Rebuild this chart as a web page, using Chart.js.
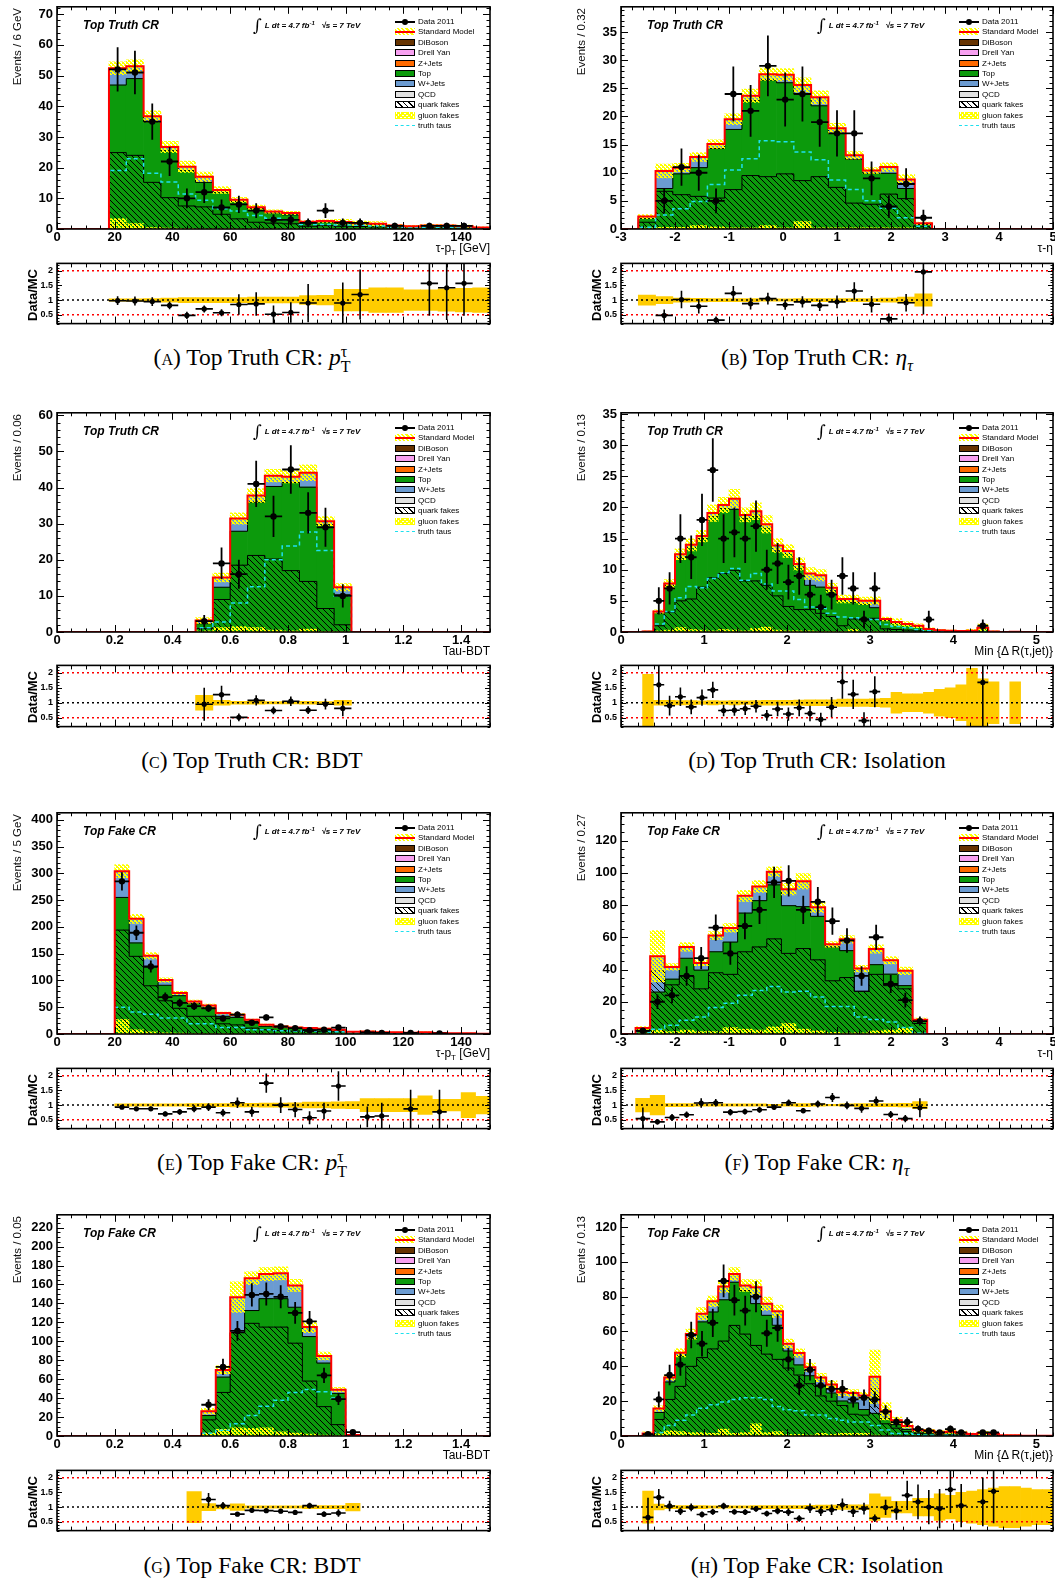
<!DOCTYPE html>
<html>
<head>
<meta charset="utf-8">
<title>Top control regions</title>
<script src="https://cdn.jsdelivr.net/npm/chart.js@4.4.1/dist/chart.umd.min.js"></script>
<style>
  html, body { margin: 0; padding: 0; background: #fff; }
  body { position: relative; width: 1055px; height: 1583px; overflow: hidden; font-family: "Liberation Sans", Arial, sans-serif; color: #000; }
  canvas { position: absolute; }
  .t { position: absolute; white-space: nowrap; }
  .hdr { font: italic bold 12px "Liberation Sans", sans-serif; line-height: 14px; }
  .lumi { font: italic bold 8px "Liberation Sans", sans-serif; height: 18px; display: flex; align-items: center; }
  .lumi .int { font: normal 17px "DejaVu Serif", serif; margin-right: 3px; }
  .lumi sup { font-size: 6px; vertical-align: 3px; }
  .ytitle { writing-mode: vertical-rl; transform: rotate(180deg); font-size: 11.5px; line-height: 14px; color: #111; }
  .rtitle { writing-mode: vertical-rl; transform: rotate(180deg); font-weight: bold; font-size: 13px; line-height: 14px; text-align: center; }
  .xtitle { font-size: 12px; line-height: 14px; text-align: right; }
  .xtitle sub { font-size: 8px; }
  .caption { font: 23.5px "Liberation Serif", serif; line-height: 28px; transform: translateX(-50%); }
  .sc { font-variant: small-caps; }
  .ss { display: inline-block; vertical-align: -0.45em; font-size: 0.68em; line-height: 0.95; }
  .ss span { display: block; }
  .leg { font-size: 8px; }
  .leg .row { position: absolute; left: 0; height: 10px; display: flex; align-items: center; }
  .sym { width: 20px; height: 7px; box-sizing: border-box; position: relative; margin-right: 3px; flex: none; }
  .sym.box { border: 1px solid #000; }
  .sym.data::before { content: ''; position: absolute; left: 0; right: 0; top: 3px; height: 1.5px; background: #000; }
  .sym.data::after { content: ''; position: absolute; left: 7px; top: 0.5px; width: 6px; height: 6px; border-radius: 50%; background: #000; }
  .sym.sm { background: repeating-linear-gradient(45deg, #ff0 0 1.5px, #fff 1.5px 3px), #ff0; }
  .sym.sm::after { content: ''; position: absolute; left: 0; right: 0; top: 2.5px; height: 2px; background: #f00; }
  .sym.quark { border: 1px solid #000; background: repeating-linear-gradient(45deg, #000 0 1px, #fff 1px 4px); }
  .sym.gluon { background: repeating-linear-gradient(45deg, #ff0 0 1.5px, transparent 1.5px 3px), repeating-linear-gradient(-45deg, #ff0 0 1.5px, #fff 1.5px 3px); }
  .sym.truth::after { content: ''; position: absolute; left: 0; right: 0; top: 2.5px; border-top: 1.5px dashed #1ee0ee; }
</style>
</head>
<body>
<script>
// ---------- Top Truth CR: tau pT, 6 GeV bins ----------
const ptTruthBins = [21, 27, 33, 39, 45, 51, 57, 63, 69, 75, 81, 87, 93, 99, 105, 111, 117, 123, 129, 135, 141, 147];
const ptTruthTop = [46.9, 49.0, 35.0, 25.5, 19.0, 15.2, 12.0, 9.0, 6.6, 5.2, 4.6, 2.1, 2.3, 2.0, 1.7, 1.5, 1.0, 0.8, 1.0, 1.0, 0.8, 0.4];
const ptTruthWjets = [5.5, 4.0, 1.7, 1.2, 1.3, 1.8, 0.7, 0.5, 0.5, 0.5, 0.6, 0.3, 0.3, 0.3, 0.2, 0.2, 0.1, 0.1, 0.1, 0.1, 0.1, 0.1];
const ptTruthQuark = [24.9, 24.0, 15.2, 10.2, 7.5, 7.2, 4.8, 3.3, 2.2, 1.9, 1.7, 0.9, 1.1, 0.9, 0.8, 0.7, 0.5, 0.4, 0.5, 0.5, 0.4, 0.2];
const ptTruthGluon = [3.4, 1.8, 0.5, 0.3, 0.2, 0.1, 0.1, 0.1, 0.1, 0.1, 0.1, 0.05, 0.05, 0.05, 0.05, 0.05, 0, 0, 0, 0, 0, 0];
const ptTruthTaus = [19.1, 22.9, 18.2, 15.3, 11.4, 9.4, 6.6, 5.9, 4.4, 3.5, 3.0, 1.5, 1.5, 1.3, 1.2, 1.0, 0.6, 0.5, 0.6, 0.6, 0.5, 0.3];
const ptTruthData = [52, 51, 35, 22, 10, 12, 7, 8, 6, 3, 3, 2, 6, 2, 2, null, 1, null, 1, 1, 1, null];
const ptTruthDataErr = [7.2, 7.1, 5.9, 4.7, 3.2, 3.5, 2.6, 2.8, 2.4, 1.7, 1.7, 1.4, 2.4, 1.4, 1.4, null, 1, null, 1, 1, 1, null];
const ptTruthRatio = [0.98, 0.97, 0.95, 0.82, 0.48, 0.70, 0.57, 0.85, 0.87, 0.52, 0.58, 0.90, null, 0.90, 1.19, null, null, null, 1.57, 1.42, 1.57, null];
const ptTruthRatioErr = [0.15, 0.15, 0.15, 0.13, 0.12, 0.12, 0.12, 0.35, 0.4, 0.3, 0.35, 0.65, null, 0.7, 0.85, null, null, null, 1.1, 1.1, 1.1, null];
const ptTruthSyst = [0.04, 0.04, 0.05, 0.07, 0.09, 0.09, 0.09, 0.09, 0.1, 0.1, 0.1, 0.15, 0.16, 0.37, 0.37, 0.42, 0.42, 0.35, 0.35, 0.38, 0.4, 0.42];

// ---------- Top Truth CR: tau eta, 0.32 bins ----------
const etaTruthBins = [-2.52, -2.2, -1.88, -1.56, -1.24, -0.92, -0.6, -0.28, 0.04, 0.36, 0.68, 1.0, 1.32, 1.64, 1.96, 2.28, 2.6];
const etaTruthTop = [1.9, 7.2, 9.8, 10.9, 14.3, 17.7, 22.8, 26.5, 26.0, 24.0, 21.9, 17.0, 12.4, 9.9, 9.9, 7.2, 0.8];
const etaTruthWjets = [0.3, 3.1, 1.1, 1.9, 0.8, 1.8, 0.9, 1.0, 1.4, 1.6, 1.5, 0.9, 0.7, 0.5, 1.1, 1.6, 0.2];
const etaTruthQuark = [1.2, 6.7, 6.1, 5.8, 5.5, 7.0, 9.5, 9.3, 9.8, 8.6, 9.3, 7.4, 4.6, 4.4, 6.2, 5.4, 0.4];
const etaTruthGluon = [0.2, 0.3, 0.3, 0.6, 0.4, 0.2, 0.2, 0.6, 0.2, 1.3, 0.2, 0.2, 0.2, 0.2, 0.2, 0.2, 0.1];
const etaTruthTaus = [0.3, 2.5, 3.6, 4.9, 7.9, 10.5, 12.5, 15.7, 15.5, 13.7, 12.3, 8.7, 7.0, 5.0, 3.7, 2.0, 0.5];
const etaTruthData = [null, 5, 11, 10, 5, 24, 21, 29, 23, 24, 19, 17, 17, 9, 4, 8, 2];
const etaTruthDataErr = [null, 2.2, 3.3, 3.2, 2.2, 4.9, 4.6, 5.4, 4.8, 4.9, 4.4, 4.1, 4.1, 3.0, 2.0, 2.8, 1.4];
const etaTruthRatio = [null, 0.48, 1.02, 0.79, 0.32, 1.23, 0.88, 1.05, 0.84, 0.94, 0.82, 0.94, 1.31, 0.86, 0.36, 0.91, 1.96];
const etaTruthRatioErr = [null, 0.2, 0.3, 0.25, 0.12, 0.25, 0.2, 0.2, 0.17, 0.19, 0.19, 0.22, 0.3, 0.28, 0.18, 0.3, 1.45];
const etaTruthSyst = [0.17, 0.12, 0.07, 0.06, 0.05, 0.05, 0.05, 0.04, 0.04, 0.05, 0.05, 0.05, 0.05, 0.05, 0.07, 0.1, 0.21];

// ---------- Top Truth CR: tau BDT score, 0.06 bins ----------
const bdtTruthBins = [0.51, 0.57, 0.63, 0.69, 0.75, 0.81, 0.87, 0.93, 0.99];
const bdtTruthTop = [2.3, 12.4, 27.9, 36.0, 40.3, 41.4, 40.1, 29.7, 10.3];
const bdtTruthWjets = [0.9, 2.7, 3.5, 1.8, 3.0, 1.6, 4.0, 1.0, 2.1];
const bdtTruthQuark = [1.0, 9.0, 18.5, 21.2, 20.2, 17.0, 14.0, 6.5, 2.0];
const bdtTruthGluon = [0.3, 1.2, 1.5, 1.2, 0.5, 0.3, 0.8, 0.2, 0.1];
const bdtTruthTaus = [1.2, 2.8, 8.0, 12.5, 20.0, 23.8, 27.7, 22.6, 10.0];
const bdtTruthData = [3, 19, 16, 41, 32, 45, 33, 29, 10];
const bdtTruthDataErr = [1.7, 4.4, 4.0, 6.4, 5.7, 6.7, 5.7, 5.4, 3.2];
const bdtTruthRatio = [0.95, 1.27, 0.51, 1.08, 0.74, 1.05, 0.75, 0.95, 0.81];
const bdtTruthRatioErr = [0.55, 0.3, 0.13, 0.17, 0.13, 0.16, 0.13, 0.18, 0.26];
const bdtTruthSyst = [0.25, 0.08, 0.05, 0.05, 0.04, 0.04, 0.05, 0.04, 0.08];

// ---------- Top Truth CR: min dR(tau, jet), 0.13 bins ----------
const isoTruthBins = [0.325, 0.455, 0.585, 0.715, 0.845, 0.975, 1.105, 1.235, 1.365, 1.495, 1.625, 1.755, 1.885, 2.015, 2.145, 2.275, 2.405, 2.535, 2.665, 2.795, 2.925, 3.055, 3.185, 3.315, 3.445, 3.575, 3.705, 3.835, 3.965, 4.095, 4.225, 4.355, 4.485, 4.615, 4.745];
const isoTruthTop = [0.1, 3.0, 7.5, 11.9, 13.6, 15.0, 18.5, 19.8, 19.7, 18.3, 18.6, 16.7, 13.0, 12.6, 10.4, 7.5, 7.2, 6.6, 5.0, 4.8, 4.5, 3.9, 1.9, 1.4, 1.2, 0.9, 0.45, 0.25, 0.2, 0.15, 0.2, 0.7, 0.1, 0, 0.05];
const isoTruthWjets = [0, 0.3, 0.3, 0.6, 0.4, 0.4, 0.6, 0.6, 1.7, 0.5, 0.8, 0.6, 0.9, 0.4, 0.5, 1.9, 1.9, 0.5, 0.3, 0.5, 0.5, 1.1, 0.2, 0.2, 0.1, 0.1, 0.05, 0.05, 0, 0, 0, 0, 0, 0, 0];
const isoTruthQuark = [0, 1.0, 3.2, 5.0, 5.3, 7.2, 8.7, 9.4, 9.9, 8.2, 8.2, 7.5, 5.8, 4.1, 3.6, 3.6, 3.0, 2.5, 1.0, 2.1, 2.1, 2.2, 0.5, 0.4, 0.3, 0.2, 0.1, 0.1, 0.05, 0.05, 0.05, 0.1, 0, 0, 0];
const isoTruthGluon = [0, 0.2, 0.3, 0.7, 0.4, 0.3, 0.2, 0.4, 0.3, 0.2, 0.6, 0.8, 0.3, 0.2, 0.2, 0.2, 0.1, 0.1, 0.1, 0.4, 0.1, 0.1, 0.05, 0, 0, 0, 0, 0, 0, 0, 0, 0, 0, 0, 0];
const isoTruthTaus = [0, 1.3, 3.3, 5.5, 7.3, 7.1, 8.6, 9.5, 10.2, 8.3, 9.4, 7.7, 6.6, 6.6, 5.2, 4.0, 3.8, 3.0, 2.4, 2.3, 2.1, 2.0, 1.2, 0.9, 0.7, 0.4, 0.2, 0.1, 0.1, 0.05, 0.05, 0.1, 0, 0, 0];
const isoTruthData = [null, 5, 7, 15, 12, 18, 26, 15, 16, 15, 17, 10, 11, 8, 9, 6, 4, 6, 9, 7, 2, 7, null, null, null, null, 2, null, null, null, null, 1, null, null, null];
const isoTruthDataErr = [null, 2.2, 2.6, 3.9, 3.5, 4.2, 5.1, 3.9, 4.0, 3.9, 4.1, 3.2, 3.3, 2.8, 3.0, 2.4, 2.0, 2.4, 3.0, 2.6, 1.4, 2.6, null, null, null, null, 1.4, null, null, null, null, 1.0, null, null, null];
const isoTruthRatio = [null, 1.6, 0.9, 1.2, 0.86, 1.17, 1.43, 0.74, 0.75, 0.8, 0.88, 0.58, 0.79, 0.62, 0.83, 0.64, 0.44, 0.85, 1.7, 1.28, 0.4, 1.37, null, null, null, null, null, null, null, null, null, 1.68, null, null, null];
const isoTruthRatioErr = [null, 0.66, 0.33, 0.31, 0.25, 0.27, 0.27, 0.19, 0.19, 0.21, 0.21, 0.18, 0.24, 0.22, 0.28, 0.26, 0.22, 0.34, 0.57, 0.49, 0.28, 0.52, null, null, null, null, null, null, null, null, null, 1.6, null, null, null];
const isoTruthSyst = [0.95, 0.08, 0.08, 0.07, 0.07, 0.06, 0.07, 0.06, 0.07, 0.06, 0.07, 0.08, 0.08, 0.08, 0.09, 0.1, 0.1, 0.1, 0.12, 0.12, 0.12, 0.13, 0.15, 0.35, 0.3, 0.3, 0.35, 0.45, 0.5, 0.6, 1.15, 0.8, 0.7, null, 0.7];

// ---------- Top Fake CR: tau pT, 5 GeV bins ----------
const ptFakeBins = [22.5, 27.5, 32.5, 37.5, 42.5, 47.5, 52.5, 57.5, 62.5, 67.5, 72.5, 77.5, 82.5, 87.5, 92.5, 97.5, 102.5, 107.5, 112.5, 117.5, 122.5, 127.5, 132.5, 137.5, 142.5, 147.5];
const ptFakeTop = [255, 170, 125, 91, 71.5, 57, 49, 33, 31, 23.5, 14.3, 12.2, 10.8, 9.6, 8.4, 6.5, 3.5, 4.1, 2.6, 2.6, 2.1, 2.6, 1.6, 1.0, 1.0, 0.5];
const ptFakeWjets = [49, 45, 21, 10, 5, 3.5, 4, 6, 5, 3, 3, 2, 1.5, 1.5, 1.5, 1.5, 0.8, 0.8, 0.5, 0.5, 0.4, 0.5, 0.3, 0.2, 0.2, 0.1];
const ptFakeQuark = [194, 145, 90, 62, 48, 33, 33, 19, 17, 11, 8, 6.5, 5.5, 5, 4.5, 4, 2.5, 2, 1.5, 1.5, 1.2, 1.5, 1, 0.6, 0.6, 0.3];
const ptFakeGluon = [27, 8, 4, 2, 1.5, 1, 0.8, 0.6, 0.5, 0.5, 0.4, 0.3, 0.3, 0.2, 0.2, 0.2, 0.1, 0.1, 0.1, 0.1, 0.1, 0.1, 0.05, 0.05, 0.05, 0];
const ptFakeTaus = [50, 41, 37, 30, 30, 19, 19, 12, 12, 8, 8, 6, 5.5, 5, 4.5, 4, 2.5, 2, 1.5, 1.5, 1.2, 1.5, 1, 0.6, 0.6, 0.3];
const ptFakeData = [285, 189, 126, 69, 58, 52, 48, 29, 36, 21, 31, 14, 11, 7, 8, 12, null, 3, 2, null, 2, null, 1, null, null, null];
const ptFakeDataErr = [16.9, 13.7, 11.2, 8.3, 7.6, 7.2, 6.9, 5.4, 6, 4.6, 5.6, 3.7, 3.3, 2.6, 2.8, 3.5, null, 1.7, 1.4, null, 1.4, null, 1, null, null, null];
const ptFakeRatio = [0.93, 0.875, 0.875, 0.70, 0.77, 0.875, 0.93, 0.74, 1.08, 0.77, 1.75, 1.0, 0.85, 0.57, 0.80, 1.65, null, 0.6, 0.63, null, 0.87, null, 0.77, null, null, null];
const ptFakeRatioErr = [0.06, 0.06, 0.07, 0.08, 0.1, 0.12, 0.13, 0.13, 0.18, 0.17, 0.33, 0.27, 0.26, 0.22, 0.28, 0.5, null, 0.35, 0.45, null, 0.65, null, 0.75, null, null, null];
const ptFakeSyst = [0.04, 0.04, 0.04, 0.04, 0.04, 0.05, 0.05, 0.05, 0.06, 0.06, 0.07, 0.07, 0.08, 0.1, 0.1, 0.11, 0.12, 0.22, 0.22, 0.22, 0.22, 0.32, 0.2, 0.2, 0.43, 0.3];

// ---------- Top Fake CR: tau eta, 0.27 bins ----------
const etaFakeBins = [-2.595, -2.325, -2.055, -1.785, -1.515, -1.245, -0.975, -0.705, -0.435, -0.165, 0.105, 0.375, 0.645, 0.915, 1.185, 1.455, 1.725, 1.995, 2.265, 2.535];
const etaFakeTop = [3.2, 26, 34, 47, 39.6, 51, 57, 75, 82.7, 92.5, 79.6, 79, 73, 54, 51.7, 26.5, 43, 37.1, 30, 8];
const etaFakeWjets = [0.5, 22.2, 7.6, 7, 4.5, 10.1, 8.8, 10.7, 8.8, 8.2, 10.2, 15.8, 5.6, 1.6, 7, 14.1, 9.7, 8.6, 9.2, 0.8];
const etaFakeQuark = [1.5, 39, 30.5, 36, 28, 38, 37, 51, 54, 59, 50, 53, 46, 33, 35, 26.5, 37, 30, 28, 6.5];
const etaFakeGluon = [0.5, 2.5, 1.5, 2.5, 1.5, 1.5, 4, 3, 2.5, 4.5, 6.5, 3, 2, 1, 0.5, 0.8, 2, 2.5, 3.5, 0.5];
const etaFakeTaus = [1, 3, 5.5, 8.5, 10.5, 16.5, 19, 24, 27, 29.5, 26, 26.5, 23, 17, 17, 10.5, 9, 7.5, 4, 0.5];
const etaFakeData = [2, 20, 24, 36, 47, 66, 50, 67, 77, 94, 95, 77, 82, 70, 58, 36, 60, 31, 21, 8];
const etaFakeDataErr = [1.4, 4.5, 4.9, 6, 6.9, 8.1, 7.1, 8.2, 8.8, 9.7, 9.7, 8.8, 9.1, 8.4, 7.6, 6, 7.7, 5.6, 4.6, 2.8];
const etaFakeRatio = [0.54, 0.43, 0.58, 0.67, 1.07, 1.08, 0.76, 0.78, 0.84, 0.93, 1.08, 0.81, 1.04, 1.26, 0.99, 0.89, 1.14, 0.68, 0.54, 0.91];
const etaFakeRatioErr = [0.38, 0.09, 0.12, 0.11, 0.16, 0.13, 0.11, 0.1, 0.1, 0.1, 0.11, 0.09, 0.12, 0.15, 0.13, 0.15, 0.15, 0.12, 0.12, 0.32];
const etaFakeSyst = [0.23, 0.33, 0.05, 0.05, 0.04, 0.04, 0.04, 0.04, 0.04, 0.03, 0.04, 0.05, 0.04, 0.03, 0.04, 0.05, 0.05, 0.05, 0.06, 0.12];

// ---------- Top Fake CR: tau BDT score, 0.05 bins ----------
const bdtFakeBins = [0.475, 0.525, 0.575, 0.625, 0.675, 0.725, 0.775, 0.825, 0.875, 0.925, 0.975, 1.025];
const bdtFakeTop = [0.05, 21.6, 62.2, 109.3, 132.5, 145, 145, 136, 105, 77, 45, 0.8];
const bdtFakeWjets = [0, 4.6, 7.6, 37.3, 34.1, 26, 26.8, 23, 10, 7.5, 3.9, 0.2];
const bdtFakeQuark = [0, 17, 46, 109, 119, 115, 115, 98, 58, 31, 12, 0.3];
const bdtFakeGluon = [0, 3, 7, 8.5, 8, 8.5, 4.5, 3, 2, 1, 0.5, 0];
const bdtFakeTaus = [0, 2.8, 6, 13, 21.6, 31.4, 37.7, 46, 49, 46.8, 40, 0];
const bdtFakeData = [null, 33, 73, 111, 149, 150, 147, 130, 121, 64, 39, 4];
const bdtFakeDataErr = [null, 5.7, 8.5, 10.5, 12.2, 12.2, 12.1, 11.4, 11, 8, 6.2, 2];
const bdtFakeRatio = [null, 1.26, 1.05, 0.76, 0.89, 0.88, 0.86, 0.82, 1.05, 0.76, 0.8, null];
const bdtFakeRatioErr = [null, 0.22, 0.12, 0.07, 0.07, 0.07, 0.07, 0.07, 0.1, 0.09, 0.13, null];
const bdtFakeSyst = [0.53, 0.12, 0.06, 0.11, 0.04, 0.04, 0.04, 0.04, 0.05, 0.05, 0.05, 0.13];

// ---------- Top Fake CR: min dR(tau, jet), 0.13 bins ----------
const isoFakeBins = [0.325, 0.455, 0.585, 0.715, 0.845, 0.975, 1.105, 1.235, 1.365, 1.495, 1.625, 1.755, 1.885, 2.015, 2.145, 2.275, 2.405, 2.535, 2.665, 2.795, 2.925, 3.055, 3.185, 3.315, 3.445, 3.575, 3.705, 3.835, 3.965, 4.095, 4.225, 4.355, 4.485, 4.615, 4.745, 4.875, 5.005, 5.135];
const isoFakeTop = [1.3, 13.5, 31, 46, 55.8, 65.5, 71.2, 78.2, 88.3, 83.5, 76, 69.3, 63.6, 48.8, 40.8, 34.6, 28.5, 24.7, 20.1, 19, 15.2, 13, 9.9, 6.5, 3.8, 2.3, 2.2, 1.6, 2.0, 1.4, 0.8, 1.3, 1.0, 0.3, 0.3, 0.2, 0.1, 0.1];
const isoFakeWjets = [0.2, 2.3, 2.6, 1.8, 2.7, 4.7, 6.1, 7.6, 4.7, 2.9, 9.4, 6.6, 8, 4.2, 6.9, 4.9, 5.1, 4.9, 5, 5.7, 8, 21, 4.3, 2.6, 1.9, 1.1, 0.8, 0.5, 0.5, 0.5, 0.3, 0.4, 0.3, 0.1, 0.1, 0, 0, 0];
const isoFakeQuark = [0.2, 9.5, 21, 28.5, 40, 45, 50, 54.5, 63.5, 58.5, 52, 47, 44, 39, 35, 30, 23, 20, 17.5, 12.5, 12, 27, 7, 4.5, 2.5, 1.5, 1.2, 0.8, 1, 0.6, 0.4, 0.5, 0.4, 0.1, 0.1, 0, 0, 0];
const isoFakeGluon = [0, 1.2, 3, 2.5, 2, 2, 1.5, 4, 1.5, 2, 7, 2, 2.5, 1, 1, 0.5, 1.5, 1, 1.5, 1.5, 1.5, 0.5, 0.3, 0.2, 0.1, 0.1, 0.1, 0, 0, 0, 0, 0, 0, 0, 0, 0, 0, 0];
const isoFakeTaus = [0.3, 2, 6, 9, 12, 16, 18, 19.5, 21, 22, 22, 21, 17, 15, 14.5, 12, 12, 10, 9, 8, 8, 6, 3.5, 1.5, 1.5, 0.8, 0.5, 0.5, 0.5, 0.3, 0.2, 0.2, 0.2, 0.1, 0.1, 0, 0, 0];
const isoFakeData = [1, 21, 35, 41, 58, 53, 65, 89, 78, 72, 80, 59, 62, 44, 29, 38, 29, 27, 27, 21, 22, 21, 14, 8, 8, 4, 3, 2, 4, 2, null, 2, 2, null, null, null, null, null];
const isoFakeDataErr = [1, 4.6, 5.9, 6.4, 7.6, 7.3, 8.1, 9.4, 8.8, 8.5, 8.9, 7.7, 7.9, 6.6, 5.4, 6.2, 5.4, 5.2, 5.2, 4.6, 4.7, 4.6, 3.7, 2.8, 2.8, 2, 1.7, 1.4, 2, 1.4, null, 1.4, 1.4, null, null, null, null, null];
const isoFakeRatio = [0.65, 1.33, 1.04, 0.86, 0.99, 0.75, 0.84, 1.04, 0.84, 0.83, 0.94, 0.78, 0.87, 0.83, 0.61, 0.96, 0.86, 0.91, 1.08, 0.85, 0.95, 0.62, 0.99, 0.88, 1.4, 1.18, 1.0, 0.95, 1.6, 1.05, null, 1.18, 1.54, null, null, null, null, null];
const isoFakeRatioErr = [0.67, 0.29, 0.18, 0.13, 0.13, 0.1, 0.1, 0.11, 0.09, 0.1, 0.1, 0.1, 0.11, 0.13, 0.11, 0.16, 0.16, 0.18, 0.21, 0.19, 0.2, 0.13, 0.26, 0.31, 0.5, 0.59, 0.58, 0.67, 0.8, 0.74, null, 0.83, 1.09, null, null, null, null, null];
const isoFakeSyst = [0.55, 0.1, 0.05, 0.05, 0.05, 0.05, 0.04, 0.04, 0.04, 0.04, 0.05, 0.05, 0.05, 0.05, 0.05, 0.06, 0.07, 0.07, 0.08, 0.08, 0.08, 0.45, 0.35, 0.2, 0.2, 0.3, 0.3, 0.45, 0.4, 0.5, 0.55, 0.6, 0.65, 0.7, 0.7, 0.65, 0.6, 0.6];

// ---------- styling ----------
const GREEN = '#0c9a0c';
const BLUE = '#6b9bd1';
const CYAN = '#1ee0ee';
const GOLD = '#ffcc00';

Chart.defaults.font.family = '"Liberation Sans", Arial, sans-serif';
Chart.defaults.color = '#000';

function hatchPattern() {
  const c = document.createElement('canvas');
  c.width = c.height = 6;
  const g = c.getContext('2d');
  g.strokeStyle = '#000';
  g.lineWidth = 1;
  g.beginPath();
  g.moveTo(-1, -1); g.lineTo(7, 7);
  g.moveTo(-1, 5); g.lineTo(1, 7);
  g.moveTo(5, -1); g.lineTo(7, 1);
  g.stroke();
  return g.createPattern(c, 'repeat');
}

function crossPattern() {
  const c = document.createElement('canvas');
  c.width = c.height = 4;
  const g = c.getContext('2d');
  g.fillStyle = '#ffff00';
  [[0, 0], [1, 1], [2, 2], [3, 3], [3, 0], [2, 1], [1, 2], [0, 3], [1, 0], [3, 2]].forEach(([x, y]) => g.fillRect(x, y, 1, 1));
  return g.createPattern(c, 'repeat');
}

const HATCH = hatchPattern();
const CROSS = crossPattern();

// ---------- plugins ----------
// vertical stat errors and horizontal bin-width bars on data points
const errorBars = {
  id: 'errorBars',
  afterDatasetsDraw(chart) {
    const { ctx, chartArea: a, scales: { x, y } } = chart;
    ctx.save();
    ctx.beginPath();
    ctx.rect(a.left, a.top, a.width, a.height);
    ctx.clip();
    chart.data.datasets.forEach(ds => {
      if (!ds.yErr) return;
      ctx.strokeStyle = '#000';
      ctx.lineWidth = ds.errWidth || 1.6;
      ctx.beginPath();
      ds.data.forEach((p, i) => {
        if (p.y == null) return;
        const px = x.getPixelForValue(p.x);
        const py = y.getPixelForValue(p.y);
        ctx.moveTo(x.getPixelForValue(p.x - ds.xHalf), py);
        ctx.lineTo(x.getPixelForValue(p.x + ds.xHalf), py);
        const e = ds.yErr[i];
        if (e != null) {
          ctx.moveTo(px, y.getPixelForValue(p.y - e));
          ctx.lineTo(px, y.getPixelForValue(p.y + e));
        }
      });
      ctx.stroke();
    });
    ctx.restore();
  }
};

function eachTick(min, max, minor, sub, fn) {
  const k0 = Math.ceil(min / minor - 1e-6);
  const k1 = Math.floor(max / minor + 1e-6);
  for (let k = k0; k <= k1; k++) fn(k * minor, ((k % sub) + sub) % sub === 0);
}

// frame with inward major/minor ticks on all four sides
const rootFrame = {
  id: 'rootFrame',
  afterDraw(chart, args, o) {
    const { ctx, chartArea: a, scales: { x, y } } = chart;
    ctx.save();
    ctx.strokeStyle = '#000';
    ctx.lineWidth = 1;
    ctx.beginPath();
    eachTick(x.min, x.max, o.xStep / o.xSub, o.xSub, (v, major) => {
      const px = Math.round(x.getPixelForValue(v)) + 0.5;
      const len = major ? o.xMajor : o.xMinor;
      ctx.moveTo(px, a.bottom); ctx.lineTo(px, a.bottom - len);
      ctx.moveTo(px, a.top); ctx.lineTo(px, a.top + len);
    });
    eachTick(y.min, y.max, o.yStep / o.ySub, o.ySub, (v, major) => {
      const py = Math.round(y.getPixelForValue(v)) + 0.5;
      const len = major ? o.yMajor : o.yMinor;
      ctx.moveTo(a.left, py); ctx.lineTo(a.left + len, py);
      ctx.moveTo(a.right, py); ctx.lineTo(a.right - len, py);
    });
    ctx.stroke();
    ctx.lineWidth = 1.6;
    ctx.strokeRect(a.left, a.top, a.width, a.height);
    ctx.restore();
  }
};

// ---------- layout ----------
const rows = [
  { mt: 5, mb: 229, rt: 262, rb: 327, cap: 357 },
  { mt: 411, mb: 632, rt: 664, rb: 730, cap: 760 },
  { mt: 811, mb: 1034, rt: 1067, rb: 1132, cap: 1162 },
  { mt: 1213, mb: 1436, rt: 1469, rb: 1534, cap: 1565 }
];
const cols = [
  { fl: 57, fr: 490, cx: 252 },
  { fl: 621, fr: 1053, cx: 817 }
];

const PT = '<i>p</i><span class="ss"><span>τ</span><span>T</span></span>';
const ETA = '<i>η</i><sub style="font-size:0.68em"><i>τ</i></sub>';

const panels = [
  { row: 0, col: 0, region: 'Top Truth CR', tag: 'a', what: PT, ytitle: 'Events / 6 GeV', xtitle: 'τ-p<sub>T</sub> [GeV]',
    bins: ptTruthBins, width: 6, top: ptTruthTop, wjets: ptTruthWjets, quark: ptTruthQuark, gluon: ptTruthGluon, taus: ptTruthTaus,
    data: ptTruthData, dataErr: ptTruthDataErr, ratio: ptTruthRatio, ratioErr: ptTruthRatioErr, syst: ptTruthSyst,
    x: { min: 0, max: 150, step: 20, sub: 4 }, y: { max: 72.4, step: 10, sub: 5 } },
  { row: 0, col: 1, region: 'Top Truth CR', tag: 'b', what: ETA, ytitle: 'Events / 0.32', xtitle: 'τ-η',
    bins: etaTruthBins, width: 0.32, top: etaTruthTop, wjets: etaTruthWjets, quark: etaTruthQuark, gluon: etaTruthGluon, taus: etaTruthTaus,
    data: etaTruthData, dataErr: etaTruthDataErr, ratio: etaTruthRatio, ratioErr: etaTruthRatioErr, syst: etaTruthSyst,
    x: { min: -3, max: 5, step: 1, sub: 5 }, y: { max: 39.5, step: 5, sub: 5 } },
  { row: 1, col: 0, region: 'Top Truth CR', tag: 'c', what: 'BDT', ytitle: 'Events / 0.06', xtitle: 'Tau-BDT',
    bins: bdtTruthBins, width: 0.06, top: bdtTruthTop, wjets: bdtTruthWjets, quark: bdtTruthQuark, gluon: bdtTruthGluon, taus: bdtTruthTaus,
    data: bdtTruthData, dataErr: bdtTruthDataErr, ratio: bdtTruthRatio, ratioErr: bdtTruthRatioErr, syst: bdtTruthSyst,
    x: { min: 0, max: 1.5, step: 0.2, sub: 4 }, y: { max: 60.7, step: 10, sub: 5 } },
  { row: 1, col: 1, region: 'Top Truth CR', tag: 'd', what: 'Isolation', ytitle: 'Events / 0.13', xtitle: 'Min {Δ R(τ,jet)}',
    bins: isoTruthBins, width: 0.13, top: isoTruthTop, wjets: isoTruthWjets, quark: isoTruthQuark, gluon: isoTruthGluon, taus: isoTruthTaus,
    data: isoTruthData, dataErr: isoTruthDataErr, ratio: isoTruthRatio, ratioErr: isoTruthRatioErr, syst: isoTruthSyst,
    x: { min: 0, max: 5.2, step: 1, sub: 5 }, y: { max: 35.2, step: 5, sub: 5 } },
  { row: 2, col: 0, region: 'Top Fake CR', tag: 'e', what: PT, ytitle: 'Events / 5 GeV', xtitle: 'τ-p<sub>T</sub> [GeV]',
    bins: ptFakeBins, width: 5, top: ptFakeTop, wjets: ptFakeWjets, quark: ptFakeQuark, gluon: ptFakeGluon, taus: ptFakeTaus,
    data: ptFakeData, dataErr: ptFakeDataErr, ratio: ptFakeRatio, ratioErr: ptFakeRatioErr, syst: ptFakeSyst,
    x: { min: 0, max: 150, step: 20, sub: 4 }, y: { max: 413, step: 50, sub: 5 } },
  { row: 2, col: 1, region: 'Top Fake CR', tag: 'f', what: ETA, ytitle: 'Events / 0.27', xtitle: 'τ-η',
    bins: etaFakeBins, width: 0.27, top: etaFakeTop, wjets: etaFakeWjets, quark: etaFakeQuark, gluon: etaFakeGluon, taus: etaFakeTaus,
    data: etaFakeData, dataErr: etaFakeDataErr, ratio: etaFakeRatio, ratioErr: etaFakeRatioErr, syst: etaFakeSyst,
    x: { min: -3, max: 5, step: 1, sub: 5 }, y: { max: 137.2, step: 20, sub: 4 } },
  { row: 3, col: 0, region: 'Top Fake CR', tag: 'g', what: 'BDT', ytitle: 'Events / 0.05', xtitle: 'Tau-BDT',
    bins: bdtFakeBins, width: 0.05, top: bdtFakeTop, wjets: bdtFakeWjets, quark: bdtFakeQuark, gluon: bdtFakeGluon, taus: bdtFakeTaus,
    data: bdtFakeData, dataErr: bdtFakeDataErr, ratio: bdtFakeRatio, ratioErr: bdtFakeRatioErr, syst: bdtFakeSyst,
    x: { min: 0, max: 1.5, step: 0.2, sub: 4 }, y: { max: 233.6, step: 20, sub: 4 } },
  { row: 3, col: 1, region: 'Top Fake CR', tag: 'h', what: 'Isolation', ytitle: 'Events / 0.13', xtitle: 'Min {Δ R(τ,jet)}',
    bins: isoFakeBins, width: 0.13, top: isoFakeTop, wjets: isoFakeWjets, quark: isoFakeQuark, gluon: isoFakeGluon, taus: isoFakeTaus,
    data: isoFakeData, dataErr: isoFakeDataErr, ratio: isoFakeRatio, ratioErr: isoFakeRatioErr, syst: isoFakeSyst,
    x: { min: 0, max: 5.2, step: 1, sub: 5 }, y: { max: 127, step: 20, sub: 4 } }
];

const LEGEND = [
  ['data', 'Data 2011'], ['sm', 'Standard Model'],
  ['box', 'DiBoson', '#663300'], ['box', 'Drell Yan', '#f7a0f0'], ['box', 'Z+Jets', '#ff6a00'],
  ['box', 'Top', GREEN], ['box', 'W+Jets', BLUE], ['box', 'QCD', '#e2e2e2'],
  ['quark', 'quark fakes'], ['gluon', 'gluon fakes'], ['truth', 'truth taus']
];

// ---------- helpers ----------
function addText(cls, html, style) {
  const d = document.createElement('div');
  d.className = 't ' + cls;
  d.innerHTML = html;
  Object.assign(d.style, style);
  document.body.appendChild(d);
  return d;
}

function makeCanvas(left, top, w, h) {
  const c = document.createElement('canvas');
  c.width = w; c.height = h;
  c.style.left = left + 'px'; c.style.top = top + 'px';
  c.style.width = w + 'px'; c.style.height = h + 'px';
  document.body.appendChild(c);
  return c;
}

// step outline of a histogram, flat at zero outside the filled bins
function contour(bins, width, values, xmin, xmax) {
  const pts = [{ x: xmin, y: 0 }];
  bins.forEach((c, i) => pts.push({ x: c - width / 2, y: values[i] || 0 }));
  pts.push({ x: bins[bins.length - 1] + width / 2, y: 0 });
  pts.push({ x: xmax, y: 0 });
  return pts;
}

// tick labels without trailing zeros ("1", "1.5", "0.2")
const plainNumber = v => String(Number(v.toFixed(3)));

function xScale(p, showLabels, height) {
  return {
    type: 'linear', min: p.x.min, max: p.x.max, offset: false,
    grid: { display: false, drawTicks: false }, border: { display: false },
    ticks: { display: showLabels, stepSize: p.x.step, includeBounds: false, autoSkip: false, maxRotation: 0,
             padding: 1, font: { size: 13, weight: 'bold' }, callback: plainNumber },
    afterFit(s) { s.height = height; }
  };
}

function yScale(min, max, step, fontSize, stacked) {
  return {
    type: 'linear', min, max, stacked,
    grid: { display: false, drawTicks: false }, border: { display: false },
    ticks: { stepSize: step, includeBounds: false, autoSkip: false, padding: 4, font: { size: fontSize, weight: 'bold' },
             callback: plainNumber },
    afterFit(s) { s.width = 50; }
  };
}

function baseOptions() {
  return {
    responsive: false, devicePixelRatio: 1, animation: false, events: [],
    plugins: { legend: { display: false }, tooltip: { enabled: false } },
    datasets: {
      bar: { grouped: false, barPercentage: 1, categoryPercentage: 1, borderWidth: 0 },
      line: { pointRadius: 0, fill: false, tension: 0 }
    }
  };
}

// ---------- build ----------
panels.forEach(p => {
  const r = rows[p.row], c = cols[p.col];
  const w = c.fr - c.fl;
  const total = p.top.map((v, i) => v + p.wjets[i]);
  const pts = vals => p.bins.map((x, i) => ({ x, y: vals[i] }));
  const outline = vals => contour(p.bins, p.width, vals, p.x.min, p.x.max);

  // stacked histogram
  const mainOpts = baseOptions();
  mainOpts.layout = { padding: { left: 0, right: 10, top: 10, bottom: 0 } };
  mainOpts.scales = { x: xScale(p, true, 24), y: yScale(0, p.y.max, p.y.step, 13, true) };
  mainOpts.plugins.rootFrame = { xStep: p.x.step, xSub: p.x.sub, yStep: p.y.step, ySub: p.y.sub, xMajor: 7, xMinor: 3.5, yMajor: 7, yMinor: 3.5 };

  new Chart(makeCanvas(c.fl - 50, r.mt - 10, w + 60, r.mb - r.mt + 34), {
    type: 'bar',
    data: {
      datasets: [
        { type: 'bar', label: 'Top', data: pts(p.top), backgroundColor: GREEN, stack: 'mc', order: 20 },
        { type: 'bar', label: 'W+Jets', data: pts(p.wjets), backgroundColor: BLUE, stack: 'mc', order: 20 },
        { type: 'bar', label: 'quark fakes', data: pts(p.quark), backgroundColor: HATCH, stack: 'quark', order: 18 },
        { type: 'bar', label: 'gluon fakes', data: pts(p.gluon), backgroundColor: CROSS, stack: 'gluon', order: 17 },
        { type: 'line', label: 'quark outline', data: outline(p.quark), stepped: true, borderColor: '#000', borderWidth: 1, stack: 'qline', order: 16 },
        { type: 'line', label: 'top outline', data: outline(p.top), stepped: true, borderColor: '#000', borderWidth: 1, stack: 'tline', order: 16 },
        { type: 'bar', label: 'uncertainty', backgroundColor: CROSS, stack: 'band', order: 15,
          data: p.bins.map((x, i) => ({ x, y: p.syst[i] == null ? null : [total[i] * (1 - p.syst[i]), total[i] * (1 + p.syst[i])] })) },
        { type: 'line', label: 'truth taus', data: outline(p.taus), stepped: true, borderColor: CYAN, borderWidth: 1.5, borderDash: [4, 3], stack: 'taus', order: 14 },
        { type: 'line', label: 'Standard Model', data: outline(total), stepped: true, borderColor: '#ff0000', borderWidth: 2, stack: 'sm', order: 13 },
        { type: 'line', label: 'Data 2011', data: pts(p.data), showLine: false, pointRadius: 3.2, pointBorderWidth: 0,
          pointBackgroundColor: '#000', stack: 'data', order: 1, yErr: p.dataErr, xHalf: p.width / 2, errWidth: 1.8 }
      ]
    },
    options: mainOpts,
    plugins: [errorBars, rootFrame]
  });

  // data / MC ratio
  const ratioOpts = baseOptions();
  ratioOpts.layout = { padding: { left: 0, right: 10, top: 8, bottom: 0 } };
  ratioOpts.scales = { x: xScale(p, false, 6), y: yScale(0.2, 2.25, 0.5, 9, false) };
  ratioOpts.plugins.rootFrame = { xStep: p.x.step, xSub: p.x.sub, yStep: 0.5, ySub: 5, xMajor: 7, xMinor: 4, yMajor: 5, yMinor: 2.5 };
  const refLine = (v, color) => ({ type: 'line', data: [{ x: p.x.min, y: v }, { x: p.x.max, y: v }], borderColor: color,
                                   borderWidth: 1.5, borderDash: [2, 3], order: 5 });

  new Chart(makeCanvas(c.fl - 50, r.rt - 8, w + 60, r.rb - r.rt + 14), {
    type: 'bar',
    data: {
      datasets: [
        { type: 'bar', label: 'MC uncertainty', backgroundColor: GOLD, order: 10,
          data: p.bins.map((x, i) => ({ x, y: p.syst[i] == null ? null : [1 - p.syst[i], 1 + p.syst[i]] })) },
        refLine(2, '#ff0000'), refLine(0.5, '#ff0000'), refLine(1, '#000'),
        { type: 'line', label: 'Data/MC', data: pts(p.ratio), showLine: false, pointRadius: 2.6, pointBorderWidth: 0,
          pointBackgroundColor: '#000', order: 1, yErr: p.ratioErr, xHalf: p.width / 2, errWidth: 1.6 }
      ]
    },
    options: ratioOpts,
    plugins: [errorBars, rootFrame]
  });

  // labels
  addText('hdr', p.region, { left: (c.fl + 26) + 'px', top: (r.mt + 13) + 'px' });
  addText('lumi', '<span class="int">∫</span><span>L dt = 4.7 fb<sup>-1</sup>&nbsp;&nbsp;&nbsp;√s = 7 TeV</span>',
          { left: (c.fl + 196) + 'px', top: (r.mt + 11) + 'px' });
  addText('ytitle', p.ytitle, { left: (c.fl - 47) + 'px', top: (r.mt + 3) + 'px' });
  addText('rtitle', 'Data/MC', { left: (c.fl - 31) + 'px', top: r.rt + 'px', height: (r.rb - r.rt) + 'px' });
  addText('xtitle', p.xtitle, { right: (1055 - c.fr) + 'px', top: (r.mb + 12) + 'px' });
  addText('caption', '<span class="sc">(' + p.tag + ')</span> ' + p.region + ': ' + p.what,
          { left: c.cx + 'px', top: (r.cap - 14) + 'px' });

  const leg = addText('leg', '', { left: (c.fl + 338) + 'px', top: (r.mt + 11.5) + 'px' });
  LEGEND.forEach(([kind, label, color], i) => {
    const row = document.createElement('div');
    row.className = 'row';
    row.style.top = (i * 10.4) + 'px';
    const sym = document.createElement('div');
    sym.className = 'sym ' + kind;
    if (color) sym.style.background = color;
    const txt = document.createElement('span');
    txt.textContent = label;
    row.appendChild(sym);
    row.appendChild(txt);
    leg.appendChild(row);
  });
});
</script>
</body>
</html>
